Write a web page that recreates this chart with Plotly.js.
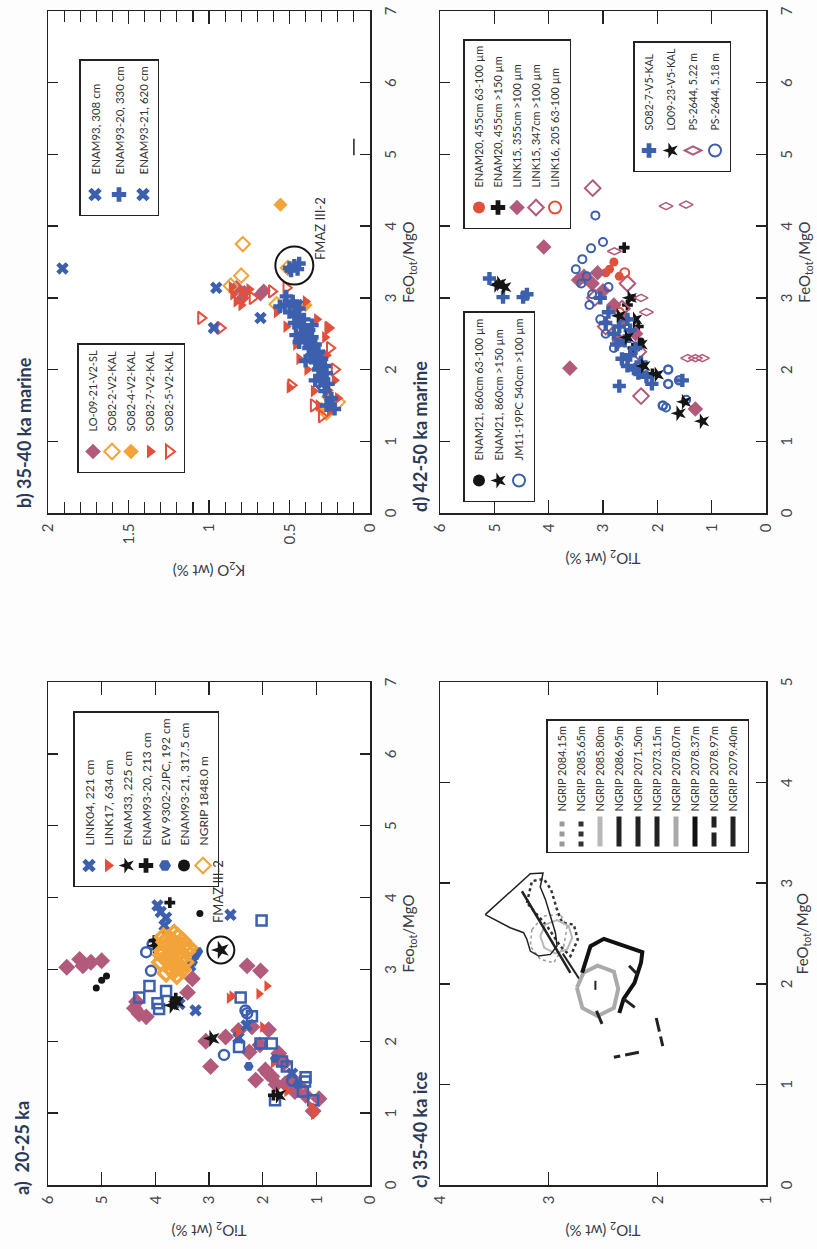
<!DOCTYPE html>
<html><head><meta charset="utf-8">
<script src="https://cdn.plot.ly/plotly-3.0.1.min.js"></script>
<style>
html,body{margin:0;padding:0;background:#fdfdfd;}
body{width:817px;height:1249px;overflow:hidden;position:relative;}
#wrap{position:absolute;left:0;top:0;width:1249px;height:817px;transform-origin:0 0;transform:translateY(1249px) rotate(-90deg);}
#plot{width:1249px;height:817px;}
</style></head>
<body><div id="wrap"><div id="plot"></div></div>
<script>
// ---------------- DATA ----------------
// Panel a) 20-25 ka : FeOtot/MgO vs TiO2
const a_link04_feo = [3.89,3.72,3.61,3.80,3.76,2.43,2.52,2.22,3.05,2.05,1.55];
const a_link04_ti  = [3.96,3.80,3.83,3.90,2.60,3.25,3.55,2.30,3.35,2.45,1.45];
const a_link17_feo = [3.52,3.15,2.77,2.63,2.66,2.60,2.20,2.13,1.70,1.30,1.10,1.04,0.98];
const a_link17_ti  = [3.83,3.75,1.92,2.57,2.07,2.62,2.00,2.45,1.80,1.55,1.10,1.03,1.05];
const a_enam33_feo = [3.33,2.50,2.55,2.04,1.25];
const a_enam33_ti  = [3.99,3.68,3.60,2.94,1.70];
const a_enam9320_feo = [3.93,3.40,2.60,1.25];
const a_enam9320_ti  = [3.73,4.02,3.62,1.80];
const a_ew9302_feo = [3.19,3.10,3.25,1.65,1.76,1.40];
const a_ew9302_ti  = [3.25,3.30,3.20,2.26,1.77,1.35];
const a_enam9321_feo = [3.78,2.91,2.74,2.85,3.35];
const a_enam9321_ti  = [3.17,4.91,5.10,5.00,4.00];
const a_ngrip_feo = [3.45,3.40,3.30,3.35,3.20,3.15,3.10,3.00,3.05,2.95,3.25,3.40,3.50,2.92,3.20,3.30,3.10,3.28,3.12,3.38,3.22,3.05,3.15,3.32,3.45,3.00,3.18,3.26,3.08,3.36,3.24,3.14,2.98,3.42];
const a_ngrip_ti  = [3.85,3.70,3.75,3.55,3.60,3.80,3.45,3.70,3.55,3.80,3.42,3.50,3.65,3.60,3.88,3.38,3.90,3.62,3.68,3.82,3.72,3.62,3.52,3.48,3.58,3.50,3.78,3.86,3.64,3.64,3.54,3.74,3.66,3.78];
const a_pink_feo = [3.03,3.14,3.10,3.12,3.05,2.46,2.38,2.34,2.55,2.87,2.68,3.05,2.98,2.00,2.06,1.65,2.16,1.51,1.46,1.41,1.39,1.83,1.03,2.20,1.60,1.45,1.30,1.25,1.55,1.85,1.70,1.95,1.20,1.40,2.15];
const a_pink_ti  = [5.65,5.41,5.20,5.00,5.35,4.39,4.30,4.17,4.35,3.31,3.40,2.29,2.04,3.06,2.69,2.97,1.89,1.83,2.13,1.58,1.33,1.70,1.06,2.20,1.95,1.50,1.40,1.20,1.90,2.25,1.60,2.05,0.95,1.75,2.45];
const a_sq_feo = [2.61,2.53,2.77,2.45,2.61,3.68,1.92,1.97,1.97,1.72,1.18,1.44,1.18,1.30,1.65,2.35,2.70,1.50];
const a_sq_ti  = [4.30,3.96,4.11,3.93,2.41,2.02,2.44,2.04,1.83,1.64,1.77,1.21,1.06,1.25,1.55,2.20,3.80,1.20];
const a_circ_feo = [3.24,2.98,2.43,3.35,1.81,2.39,1.45];
const a_circ_ti  = [4.17,4.08,2.32,4.05,2.72,2.29,1.45];
const a_fmaz_feo = [3.27];
const a_fmaz_ti  = [2.78];

// Panel b) 35-40 ka marine : FeOtot/MgO vs K2O
const b_lo0921_feo = [3.05,3.10,3.08,2.98,3.15];
const b_lo0921_k   = [0.68,0.66,0.78,0.80,0.83];
const b_so822_feo = [3.75,3.31,3.17,2.91,3.42,1.40,1.55];
const b_so822_k   = [0.79,0.80,0.865,0.58,0.51,0.27,0.20];
const b_so824_feo = [4.30,2.84,1.62,2.90,1.45];
const b_so824_k   = [0.556,0.45,0.26,0.40,0.30];
const b_so827_feo = [3.10,3.05,3.00,2.95,3.12,2.90,3.15,2.95,2.70,2.60,2.35,2.20,2.00,1.85,1.75,1.70,1.60,1.50,1.42,2.45,2.80,1.71,2.58,2.15];
const b_so827_k   = [0.80,0.85,0.78,0.83,0.75,0.80,0.86,0.40,0.33,0.52,0.46,0.27,0.39,0.22,0.50,0.35,0.20,0.32,0.25,0.28,0.58,0.26,0.26,0.44];
const b_so825_feo = [2.72,2.58,3.09,3.14,2.58,2.30,1.50,1.35,2.00,1.78,3.00];
const b_so825_k   = [1.05,0.93,0.61,0.52,0.26,0.25,0.35,0.30,0.22,0.49,0.73];
const b_enam93_feo = [3.41,3.14,2.58,2.72];
const b_enam93_k   = [1.91,0.955,0.97,0.68];
const b_enam9320_feo = [3.45,3.40,3.38,3.48,3.42,3.02,2.95,2.90,2.85,2.80,2.75,2.70,2.65,2.60,2.55,2.50,2.45,2.40,2.35,2.30,2.25,2.20,2.15,2.10,2.05,2.00,1.95,1.90,1.80,1.70,1.60,1.50,1.45,2.62,2.38,2.12,2.88,2.48,1.85];
const b_enam9320_k   = [0.47,0.45,0.49,0.44,0.50,0.52,0.48,0.53,0.44,0.50,0.46,0.41,0.47,0.43,0.38,0.42,0.36,0.40,0.34,0.38,0.32,0.36,0.30,0.34,0.28,0.32,0.27,0.30,0.26,0.28,0.24,0.27,0.22,0.36,0.44,0.40,0.56,0.46,0.34];
const b_enam9321_feo = [2.90,2.50,2.20,1.80,1.55];
const b_enam9321_k   = [0.45,0.40,0.35,0.30,0.24];
const b_fmaz_feo = [3.45];
const b_fmaz_k   = [0.47];
const b_mark_feo = [4.99,5.22];
const b_mark_k   = [0.10,0.10];

// Panel c) 35-40 ka ice : outlines, FeOtot/MgO vs TiO2
const c_208415_feo = [2.540,2.673,2.690,2.573,2.374,2.209,2.243,2.374,2.540];
const c_208415_ti  = [3.154,3.046,2.892,2.830,2.861,2.953,3.077,3.169,3.154];
const c_208565_feo = [2.804,3.020,3.043,2.937,2.738,2.606,2.589,2.440,2.275,2.374,2.573,2.804];
const c_208565_ti  = [3.200,3.154,3.046,2.978,2.923,2.876,2.769,2.732,2.800,2.892,3.015,3.200];
const c_208580_feo = [2.475,2.590,2.633,2.573,2.457,2.341,2.302,2.358,2.475];
const c_208580_ti  = [3.077,3.030,2.923,2.815,2.784,2.830,2.938,3.040,3.077];
const c_208695_feo = [2.920,2.109];
const c_208695_ti  = [3.246,2.800];
const c_207150_feo = [2.300,2.050];
const c_207150_ti  = [2.870,2.720];
const c_207315_feo = [2.688,3.095,3.102,2.963,2.839,2.673,2.508,2.376,2.292,2.276,2.325,2.441,2.508,2.557,2.688];
const c_207315_ti  = [3.584,3.169,3.052,3.077,3.030,2.984,2.938,2.923,2.984,3.092,3.169,3.200,3.231,3.354,3.584];
const c_207807_feo = [1.960,2.110,2.180,2.120,1.950,1.760,1.680,1.760,1.960];
const c_207807_ti  = [2.740,2.680,2.550,2.400,2.360,2.400,2.550,2.690,2.740];
const c_207837_feo = [2.110,2.374,2.447,2.315,2.210,2.010,1.850,1.710];
const c_207837_ti  = [2.692,2.615,2.492,2.138,2.150,2.210,2.310,2.350];
const c_207897_feo = [2.18,2.09,null,1.85,1.76,null,1.73,1.58,null,1.66,1.38,null,1.32,1.27];
const c_207897_ti  = [2.26,2.18,null,2.31,2.20,null,2.56,2.50,null,2.01,1.95,null,2.17,2.40];
const c_207940_feo = [2.03,1.94];
const c_207940_ti  = [2.57,2.57];

// Panel d) 42-50 ka marine : FeOtot/MgO vs TiO2
const d_enam20a_feo = [3.40,3.30,3.50,3.35];
const d_enam20a_ti  = [2.88,2.70,2.80,2.95];
const d_enam20b_feo = [3.70,1.94,2.90,2.60,2.30];
const d_enam20b_ti  = [2.61,2.09,2.55,2.35,2.45];
const d_link15a_feo = [3.71,2.02,3.30,3.20,3.25,3.10,2.90,2.70,2.50,1.45,3.35,2.40];
const d_link15a_ti  = [4.09,3.61,3.35,3.20,3.45,3.00,2.80,2.60,2.40,1.30,3.10,2.70];
const d_link15b_feo = [4.53,1.63,3.00,2.85,2.60,2.25,3.20];
const d_link15b_ti  = [3.19,2.30,3.15,2.65,2.95,2.35,2.55];
const d_link16_feo = [3.35,2.80];
const d_link16_ti  = [2.60,2.70];
const d_enam21a_feo = [2.40,3.00];
const d_enam21a_ti  = [2.30,2.45];
const d_enam21b_feo = [1.39,1.28,3.18,2.70,2.35,3.00];
const d_enam21b_ti  = [1.60,1.17,4.95,2.40,2.30,2.50];
const d_jm11_feo = [4.15,3.78,3.69,3.54,3.40,3.30,3.20,3.05,2.90,2.70,2.50,2.30,1.47,1.58,2.10,3.15];
const d_jm11_ti  = [3.14,3.00,3.22,3.38,3.50,3.30,3.40,3.20,3.25,3.05,2.95,2.80,1.84,1.47,2.60,2.90];
const d_so827_feo = [3.27,3.01,3.01,3.05,1.85,1.77,2.80,2.60,2.40,2.20,2.00,1.90,2.50,2.30,2.70,2.10,1.80,3.00,2.55,2.15,2.35,2.05,2.65,1.95];
const d_so827_ti  = [5.09,4.84,4.47,4.40,1.54,2.70,2.90,2.70,2.60,2.50,2.40,2.20,2.80,2.40,2.55,2.30,2.10,3.05,2.50,2.65,2.75,2.55,2.95,2.35];
const d_lo0923_feo = [3.20,3.15,2.75,2.45,2.05,1.93,1.55];
const d_lo0923_ti  = [4.90,4.81,2.70,2.55,2.25,2.00,1.50];
const d_ps522_feo = [4.28,4.30,3.65,2.16,2.16,2.16,3.00,2.80];
const d_ps522_ti  = [1.84,1.47,2.79,1.44,1.30,1.17,2.30,2.20];
const d_ps518_feo = [1.85,1.50,2.00,1.80];
const d_ps518_ti  = [1.60,1.90,1.80,1.80];

// Tick values
const ticks_feo7 = [0,1,2,3,4,5,6,7];
const ticks_feo5 = [0,1,2,3,4,5];
const ticks_ti6 = [0,1,2,3,4,5,6];
const ticks_ti4 = [1,2,3,4];
const ticks_k2o = [0,0.5,1,1.5,2];

// ---------------- LAYOUT HELPERS ----------------
const W = 1249, H = 817;
const colL = [64/W, 567/W], colR = [736/W, 1238/W];
const rowT = [1-370/H, 1-48/H], rowB = [1-766/H, 1-440/H];
const FONT = 'Lato, "Open Sans", "DejaVu Sans", sans-serif';
const blue='#3c5fae', mauve='#b25a7c', red='#e2503c', orange='#f2a33a', black='#151515';

function sc(name, x, y, ax, sym, size, color, lw, legend, show){
  return {type:'scatter', mode:'markers', name:name, x:x, y:y, xaxis:ax[0], yaxis:ax[1],
    legend:legend, legendgroup:name, showlegend:show!==false,
    marker:{symbol:sym, size:size, color:color, line:{width:lw||0, color:color}}};
}
function ln(name, x, y, color, width, dash){
  return {type:'scatter', mode:'lines', name:name, x:x, y:y, xaxis:'x3', yaxis:'y3', legend:'legend4',
    connectgaps:false, line:{color:color, width:width, dash:dash||'solid'}};
}
const A=['x','y'], B=['x2','y2'], C=['x3','y3'], D=['x4','y4'];

const traces = [
  sc('a pink', a_pink_feo, a_pink_ti, A, 'diamond', 13, mauve, 0, 'legend', false),
  sc('a squares', a_sq_feo, a_sq_ti, A, 'square-open', 10, blue, 2.5, 'legend', false),
  sc('a circles', a_circ_feo, a_circ_ti, A, 'circle-open', 10, blue, 2.5, 'legend', false),
  sc('LINK04, 221 cm', a_link04_feo, a_link04_ti, A, 'x', 11, blue, 0, 'legend'),
  sc('LINK17, 634 cm', a_link17_feo, a_link17_ti, A, 'triangle-down', 10, red, 0, 'legend'),
  sc('ENAM33, 225 cm', a_enam33_feo, a_enam33_ti, A, 'star', 13, black, 0, 'legend'),
  sc('ENAM93-20, 213 cm', a_enam9320_feo, a_enam9320_ti, A, 'cross', 9, black, 0, 'legend'),
  sc('EW 9302-2JPC, 192 cm', a_ew9302_feo, a_ew9302_ti, A, 'hexagon', 10, blue, 0, 'legend'),
  sc('ENAM93-21, 317.5 cm', a_enam9321_feo, a_enam9321_ti, A, 'circle', 7, black, 0, 'legend'),
  sc('NGRIP 1848.0 m', a_ngrip_feo, a_ngrip_ti, A, 'diamond-open', 12, orange, 3.5, 'legend'),
  sc('FMAZ a', a_fmaz_feo, a_fmaz_ti, A, 'star', 14, black, 0, 'legend', false),
  sc('FMAZ a ring', a_fmaz_feo, a_fmaz_ti, A, 'circle-open', 27, black, 2, 'legend', false),
  sc('LO-09-21-V2-SL', b_lo0921_feo, b_lo0921_k, B, 'diamond', 11, mauve, 0, 'legend2'),
  sc('SO82-2-V2-KAL', b_so822_feo, b_so822_k, B, 'diamond-open', 11, orange, 2, 'legend2'),
  sc('SO82-4-V2-KAL', b_so824_feo, b_so824_k, B, 'diamond', 11, orange, 0, 'legend2'),
  sc('SO82-7-V2-KAL', b_so827_feo, b_so827_k, B, 'triangle-down', 11, red, 0, 'legend2'),
  sc('SO82-5-V2-KAL', b_so825_feo, b_so825_k, B, 'triangle-down-open', 11, red, 2, 'legend2'),
  sc('ENAM93, 308 cm', b_enam93_feo, b_enam93_k, B, 'x', 11, blue, 0, 'legend3'),
  sc('ENAM93-20, 330 cm', b_enam9320_feo, b_enam9320_k, B, 'cross', 11, blue, 0, 'legend3'),
  sc('ENAM93-21, 620 cm', b_enam9321_feo, b_enam9321_k, B, 'x', 11, blue, 0, 'legend3'),
  sc('FMAZ b ring', b_fmaz_feo, b_fmaz_k, B, 'circle-open', 38, black, 2, 'legend3', false),
  {type:'scatter', mode:'lines', x:b_mark_feo, y:b_mark_k, xaxis:'x2', yaxis:'y2', showlegend:false, line:{color:'#222', width:1.5}},
  ln('NGRIP 2084.15m', c_208415_feo, c_208415_ti, '#9a9a9a', 1.5, 'dot'),
  ln('NGRIP 2085.65m', c_208565_feo, c_208565_ti, '#333', 2.5, 'dot'),
  ln('NGRIP 2085.80m', c_208580_feo, c_208580_ti, '#b8b8b8', 2, 'solid'),
  ln('NGRIP 2086.95m', c_208695_feo, c_208695_ti, '#222', 2.5, 'solid'),
  ln('NGRIP 2071.50m', c_207150_feo, c_207150_ti, '#222', 2, 'solid'),
  ln('NGRIP 2073.15m', c_207315_feo, c_207315_ti, '#222', 1.5, 'solid'),
  ln('NGRIP 2078.07m', c_207807_feo, c_207807_ti, '#aaaaaa', 4, 'solid'),
  ln('NGRIP 2078.37m', c_207837_feo, c_207837_ti, '#111', 4, 'solid'),
  ln('NGRIP 2078.97m', c_207897_feo, c_207897_ti, '#222', 3, '14px,5px'),
  ln('NGRIP 2079.40m', c_207940_feo, c_207940_ti, '#222', 2, 'solid'),
  sc('ENAM20, 455cm 63-100 µm', d_enam20a_feo, d_enam20a_ti, D, 'circle', 9, red, 0, 'legend5'),
  sc('ENAM20, 455cm >150 µm', d_enam20b_feo, d_enam20b_ti, D, 'cross', 9, black, 0, 'legend5'),
  sc('LINK15, 355cm >100 µm', d_link15a_feo, d_link15a_ti, D, 'diamond', 12, mauve, 0, 'legend5'),
  sc('LINK15, 347cm >100 µm', d_link15b_feo, d_link15b_ti, D, 'diamond-open', 12, mauve, 2, 'legend5'),
  sc('LINK16, 205 63-100 µm', d_link16_feo, d_link16_ti, D, 'circle-open', 9, red, 2, 'legend5'),
  sc('ENAM21, 860cm 63-100 µm', d_enam21a_feo, d_enam21a_ti, D, 'circle', 7, black, 0, 'legend6'),
  sc('ENAM21, 860cm >150 µm', d_enam21b_feo, d_enam21b_ti, D, 'star', 12, black, 0, 'legend6'),
  sc('JM11-19PC 540cm >100 µm', d_jm11_feo, d_jm11_ti, D, 'circle-open', 8, blue, 2, 'legend6'),
  sc('SO82-7-V5-KAL', d_so827_feo, d_so827_ti, D, 'cross', 11, blue, 0, 'legend7'),
  sc('LO09-23-V5-KAL', d_lo0923_feo, d_lo0923_ti, D, 'star', 12, black, 0, 'legend7'),
  sc('PS-2644, 5.22 m', d_ps522_feo, d_ps522_ti, D, 'diamond-tall-open', 10, mauve, 1.5, 'legend7'),
  sc('PS-2644, 5.18 m', d_ps518_feo, d_ps518_ti, D, 'circle-open', 8, blue, 2.5, 'legend7')
];

const tickfont = {family:FONT, size:15, color:'#454550'};
const titlefont = {family:FONT, size:15, color:'#3a3a45'};
function xa(domain, anchor, range, tv, title){
  return {domain:domain, anchor:anchor, range:range, tickvals:tv, ticks:'inside', ticklen:10, tickwidth:1.5,
    tickcolor:'#222', showline:true, linecolor:'#222', linewidth:1.5, mirror:'ticks', showgrid:false,
    zeroline:false, tickfont:tickfont, ticklabelstandoff:6, title:{text:title, font:titlefont, standoff:4}};
}
function ya(domain, anchor, range, tv, title, minorStep){
  const o = {domain:domain, anchor:anchor, range:range, tickvals:tv, ticks:'inside', ticklen:13, tickwidth:1.5,
    tickcolor:'#222', showline:true, linecolor:'#222', linewidth:1.5, mirror:'ticks', showgrid:false,
    zeroline:false, tickfont:tickfont, ticklabelstandoff:6, title:{text:title, font:titlefont, standoff:16}};
  if (minorStep) o.minor = {dtick:minorStep, tick0:0, ticks:'inside', ticklen:11, tickwidth:1.2, tickcolor:'#222', showgrid:false};
  return o;
}
function leg(xpx, ypx, size, gap){
  return {x:xpx/W, y:1-ypx/H, xanchor:'left', yanchor:'top', bgcolor:'#ffffff', bordercolor:'#222',
    borderwidth:1.5, font:{family:FONT, size:size, color:'#333'}, tracegroupgap:gap, itemsizing:'constant'};
}
const ttl = {family:FONT, size:18, color:'#2b3a58', weight:'bold'};
function ann(text, xpx, ypx){
  return {text:text, xref:'paper', yref:'paper', x:xpx/W, y:1-ypx/H, xanchor:'left', yanchor:'middle',
    showarrow:false, font:ttl};
}

const layout = {
  width:W, height:H, margin:{l:0,r:0,t:0,b:0}, paper_bgcolor:'#fdfdfd', plot_bgcolor:'#ffffff',
  showlegend:true,
  xaxis: xa(colL, 'y', [0,7], ticks_feo7, 'Feo<sub>tot</sub>/MgO'),
  yaxis: ya(rowT, 'x', [0,6], ticks_ti6, 'TiO<sub>2</sub> (wt %)'),
  xaxis2: xa(colR, 'y2', [0,7], ticks_feo7, 'FeO<sub>tot</sub>/MgO'),
  yaxis2: ya(rowT, 'x2', [0,2], ticks_k2o, 'K<sub>2</sub>O (wt %)', 0.1),
  xaxis3: xa(colL, 'y3', [0,5], ticks_feo5, 'FeO<sub>tot</sub>/MgO'),
  yaxis3: ya(rowB, 'x3', [1,4], ticks_ti4, 'TiO<sub>2</sub> (wt %)'),
  xaxis4: xa(colR, 'y4', [0,7], ticks_feo7, 'FeO<sub>tot</sub>/MgO'),
  yaxis4: ya(rowB, 'x4', [0,6], ticks_ti6, 'TiO<sub>2</sub> (wt %)'),
  legend: leg(362, 73, 12, 0),
  legend2: leg(776, 77, 11, 0),
  legend3: leg(1033, 79, 11.5, 5),
  legend4: leg(396, 546, 11, 0),
  legend5: leg(1020, 463, 11, 0),
  legend6: leg(747, 463, 11, 1),
  legend7: leg(1077, 633, 10.5, 3),
  annotations: [
    ann('a)\u00a0\u00a020-25 ka', 52, 22),
    ann('b) 35-40 ka marine', 739, 24),
    ann('c) 35-40 ka ice', 59, 420),
    ann('d) 42-50 ka marine', 735, 420),
    {text:'FMAZ III-2', xref:'x', yref:'y', x:3.62, y:2.83, xanchor:'left', yanchor:'middle', showarrow:false,
     font:{family:FONT, size:13, color:'#333'}},
    {text:'FMAZ III-2', xref:'x2', yref:'y2', x:3.50, y:0.31, xanchor:'left', yanchor:'middle', showarrow:false,
     font:{family:FONT, size:13, color:'#333'}}
  ]
};
Plotly.newPlot('plot', traces, layout, {staticPlot:true, displayModeBar:false});
</script></body></html>
